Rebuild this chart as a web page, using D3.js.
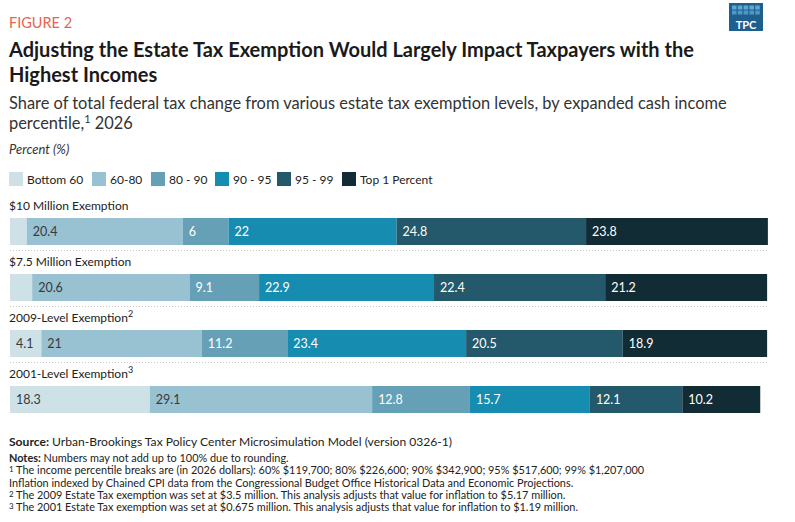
<!DOCTYPE html>
<html lang="en">
<head>
<meta charset="UTF-8">
<title>Figure 2</title>
<script src="https://d3js.org/d3.v7.min.js"></script>
<style>
  body { margin: 0; background: #fff; }
  text { font-family: Lato, "Open Sans", sans-serif; }
</style>
</head>
<body>
<script>
const categories = ["$10 Million Exemption", "$7.5 Million Exemption", "2009-Level Exemption", "2001-Level Exemption"];
const superscripts = ["", "", "2", "3"];
const groups = ["Bottom 60", "60-80", "80 - 90", "90 - 95", "95 - 99", "Top 1 Percent"];
const bottom60 = [2.2, 2.9, 4.1, 18.3];
const p60to80 = [20.4, 20.6, 21, 29.1];
const p80to90 = [6, 9.1, 11.2, 12.8];
const p90to95 = [22, 22.9, 23.4, 15.7];
const p95to99 = [24.8, 22.4, 20.5, 12.1];
const top1 = [23.8, 21.2, 18.9, 10.2];
const showLabel = [[false, true, true, true, true, true], [false, true, true, true, true, true],
                   [true, true, true, true, true, true], [true, true, true, true, true, true]];
const colors = ["#cde1e7", "#98c1d2", "#66a0b7", "#168cb1", "#23596b", "#122c36"];
const labelColors = ["#3a3a3a", "#3a3a3a", "#fff", "#fff", "#fff", "#fff"];

const series = [bottom60, p60to80, p80to90, p90to95, p95to99, top1];
const rows = categories.map((c, i) => {
  const o = { name: c };
  groups.forEach((g, j) => o[g] = series[j][i]);
  return o;
});

const width = 795, height = 522;
const svg = d3.select("body").append("svg")
  .attr("width", width).attr("height", height);

// header
svg.append("text").attr("x", 9).attr("y", 28)
  .attr("font-size", 14.5).attr("fill", "#e8644c").text("FIGURE 2");
svg.append("text").attr("x", 9).attr("y", 57)
  .attr("font-size", 20).attr("font-weight", "bold").attr("fill", "#1a1a1a")
  .text("Adjusting the Estate Tax Exemption Would Largely Impact Taxpayers with the");
svg.append("text").attr("x", 9).attr("y", 82)
  .attr("font-size", 20).attr("font-weight", "bold").attr("fill", "#1a1a1a")
  .text("Highest Incomes");
svg.append("text").attr("x", 9).attr("y", 109)
  .attr("font-size", 16.4).attr("fill", "#333")
  .text("Share of total federal tax change from various estate tax exemption levels, by expanded cash income");
const sub2 = svg.append("text").attr("x", 9).attr("y", 129)
  .attr("font-size", 16.4).attr("fill", "#333");
sub2.append("tspan").text("percentile,");
sub2.append("tspan").attr("font-size", 11).attr("dy", -6).text("1");
sub2.append("tspan").attr("dy", 6).text(" 2026");
svg.append("text").attr("x", 9).attr("y", 154)
  .attr("font-size", 13).attr("font-style", "italic").attr("fill", "#333")
  .text("Percent (%)");

// logo
const logo = svg.append("g").attr("transform", "translate(729,3)");
logo.append("rect").attr("width", 34).attr("height", 28).attr("fill", "#1e5f8e");
d3.range(10).forEach(k => {
  const cx = k % 5, cy = Math.floor(k / 5);
  logo.append("rect").attr("x", 3 + cx * 5.8).attr("y", 2.5 + cy * 5)
    .attr("width", 4.6).attr("height", 4).attr("fill", cy === 0 ? "#5da8d0" : "#4d98c4");
});
logo.append("text").attr("x", 17).attr("y", 25.5).attr("text-anchor", "middle")
  .attr("font-size", 11).attr("font-weight", "bold").attr("fill", "#fff").text("TPC");

// legend
const legendX = [9, 92, 151, 215, 277, 342];
const legend = svg.append("g").selectAll("g").data(groups).join("g")
  .attr("transform", (d, i) => `translate(${legendX[i]},172)`);
legend.append("rect").attr("width", 14).attr("height", 14).attr("fill", (d, i) => colors[i]);
legend.append("text").attr("x", 18).attr("y", 11.5).attr("font-size", 12).attr("fill", "#222").text(d => d);

// bars
const x = d3.scaleLinear().domain([0, 100]).range([10, 774]);
const y = d3.scaleBand().domain(categories).range([190, 414]).paddingInner(0);
const barH = 27;
const stack = d3.stack().keys(groups)(rows);

const rowG = svg.append("g").selectAll("g").data(categories).join("g");
rowG.append("text").attr("x", 9).attr("y", d => y(d) + 20)
  .attr("font-size", 12).attr("fill", "#222")
  .each(function (d, i) {
    const t = d3.select(this);
    t.append("tspan").text(d);
    if (superscripts[i]) t.append("tspan").attr("font-size", 9).attr("dy", -5).text(superscripts[i]);
  });
rowG.filter((d, i) => i < categories.length - 1).append("line")
  .attr("x1", 10).attr("x2", 768)
  .attr("y1", d => y(d) + 60.5).attr("y2", d => y(d) + 60.5)
  .attr("stroke", "#c8c8c8").attr("stroke-dasharray", "1,2");

stack.forEach((layer, j) => {
  const g = svg.append("g");
  g.selectAll("rect").data(layer).join("rect")
    .attr("x", d => x(d[0]))
    .attr("y", d => y(d.data.name) + 28)
    .attr("width", d => x(d[1]) - x(d[0]))
    .attr("height", barH)
    .attr("fill", colors[j]);
  g.selectAll("text").data(layer).join("text")
    .filter((d, i) => showLabel[i][j])
    .attr("x", d => x(d[0]) + 6)
    .attr("y", d => y(d.data.name) + 28 + barH / 2 + 4.5)
    .attr("font-size", 12.5)
    .attr("fill", labelColors[j])
    .text(d => d3.format("")(+(d[1] - d[0]).toFixed(1)));
});

// footer
const foot = svg.append("g").attr("font-size", 10.9).attr("fill", "#222");
const src = foot.append("text").attr("x", 9).attr("y", 446).attr("font-size", 12.1);
src.append("tspan").attr("font-weight", "bold").text("Source:");
src.append("tspan").text(" Urban-Brookings Tax Policy Center Microsimulation Model (version 0326-1)");
const notes = [
  ["", "Notes:", " Numbers may not add up to 100% due to rounding."],
  ["1", "", " The income percentile breaks are (in 2026 dollars): 60% $119,700; 80% $226,600; 90% $342,900; 95% $517,600; 99% $1,207,000"],
  ["", "", "Inflation indexed by Chained CPI data from the Congressional Budget Office Historical Data and Economic Projections."],
  ["2", "", " The 2009 Estate Tax exemption was set at $3.5 million. This analysis adjusts that value for inflation to $5.17 million."],
  ["3", "", " The 2001 Estate Tax exemption was set at $0.675 million. This analysis adjusts that value for inflation to $1.19 million."]
];
notes.forEach((n, i) => {
  const t = foot.append("text").attr("x", 9).attr("y", 462 + i * 12.3);
  if (n[0]) { t.append("tspan").attr("font-size", 8).attr("dy", -2).text(n[0]); t.append("tspan").attr("dy", 2).text(n[2]); }
  else if (n[1]) { t.append("tspan").attr("font-weight", "bold").text(n[1]); t.append("tspan").text(n[2]); }
  else t.text(n[2]);
});
</script>
</body>
</html>
